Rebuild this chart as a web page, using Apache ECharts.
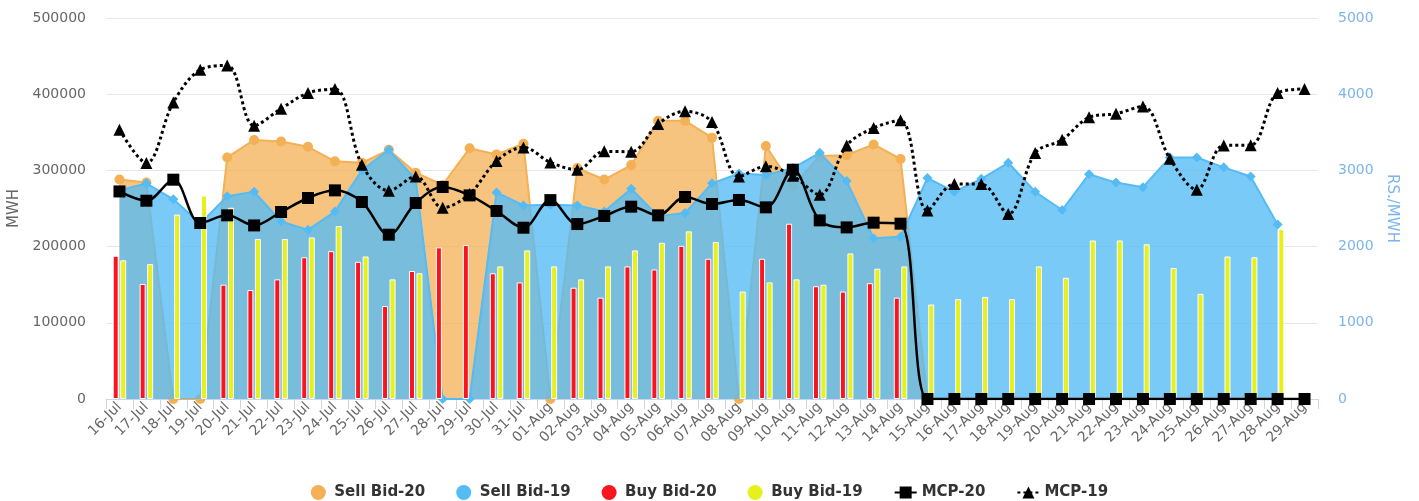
<!DOCTYPE html>
<html>
<head>
<meta charset="utf-8">
<script src="https://cdn.jsdelivr.net/npm/echarts@6/dist/echarts.min.js"></script>
<style>
html,body{margin:0;padding:0;background:#fff;}
#chart{width:1419px;height:501px;}
</style>
</head>
<body>
<div id="chart"></div>
<script>
const categories = ['16-Jul','17-Jul','18-Jul','19-Jul','20-Jul','21-Jul','22-Jul','23-Jul','24-Jul','25-Jul','26-Jul','27-Jul','28-Jul','29-Jul','30-Jul','31-Jul',
'01-Aug','02-Aug','03-Aug','04-Aug','05-Aug','06-Aug','07-Aug','08-Aug','09-Aug','10-Aug','11-Aug','12-Aug','13-Aug','14-Aug','15-Aug','16-Aug','17-Aug','18-Aug','19-Aug','20-Aug','21-Aug','22-Aug','23-Aug','24-Aug','25-Aug','26-Aug','27-Aug','28-Aug','29-Aug'];

const sellBid20 = [288000,284000,0,0,317000,340000,338000,331000,312000,310000,327000,297000,281000,329000,321000,335000,
0,303000,288000,307000,365000,365000,343000,0,332000,279000,319000,320000,334000,315000,0,0,0,0,0,0,0,0,0,0,0,0,0,0,0];

const sellBid19 = [274000,283000,262000,230000,266000,272000,233000,222000,246000,300000,327000,288000,0,0,271000,254000,
255000,254000,246000,276000,240000,244000,283000,296000,294000,303000,323000,286000,211000,213000,290000,272000,289000,310000,272000,248000,295000,284000,278000,317000,317000,304000,292000,229000,null];

const buyBid20 = [188000,151000,null,null,150000,143000,157000,186000,194000,180000,122000,168000,199000,202000,165000,153000,
null,146000,133000,174000,170000,201000,184000,null,184000,230000,148000,141000,152000,133000,null,null,null,null,null,null,null,null,null,null,null,null,null,null,null];

const buyBid19 = [182000,177000,242000,267000,251000,210000,210000,212000,227000,187000,157000,165000,null,null,174000,195000,
174000,157000,174000,195000,205000,220000,206000,141000,153000,157000,150000,191000,171000,174000,124000,131000,134000,131000,174000,159000,208000,208000,203000,172000,138000,187000,186000,223000,null];

const mcp20 = [2724,2602,2878,2310,2410,2278,2454,2638,2738,2585,2156,2572,2782,2672,2467,2248,
2610,2296,2402,2524,2410,2651,2559,2612,2515,3009,2344,2252,2314,2301,0,0,0,0,0,0,0,0,0,0,0,0,0,0,0];

const mcp19 = [3534,3097,3892,4321,4378,3587,3810,4016,4068,3075,2734,2921,2511,2690,3123,3302,
3105,3009,3250,3245,3609,3775,3635,2921,3053,2930,2681,3328,3556,3657,2475,2821,2820,2428,3228,3403,3696,3744,3840,3154,2747,3328,3330,4016,4068];

const leftTicks = [0,100000,200000,300000,400000,500000];
const rightTicks = [0,1000,2000,3000,4000,5000];

const ORANGE = '#f4b054', BLUE = '#55bbf5', RED = '#fa1420', YELLOW = '#e6f01a';
const FONT = 'DejaVu Sans';

const chart = echarts.init(document.getElementById('chart'), null, {renderer:'canvas'});
chart.setOption({
  animation: false,
  textStyle: {fontFamily: FONT},
  grid: {left:106, right:101, top:18, bottom:102, containLabel:false, outerBoundsMode:'none'},
  legend: {
    top: 480, left: 'center',
    itemWidth: 22, itemHeight: 15, itemGap: 31,
    textStyle: {fontFamily: FONT, fontSize: 15, fontWeight: 'bold', color: '#333'},
    data: [
      {name:'Sell Bid-20', icon:'circle'},
      {name:'Sell Bid-19', icon:'circle'},
      {name:'Buy Bid-20', icon:'circle', itemStyle:{borderWidth:0}},
      {name:'Buy Bid-19', icon:'circle', itemStyle:{borderWidth:0}},
      {name:'MCP-20'},
      {name:'MCP-19'}
    ]
  },
  xAxis: {
    type: 'category', data: categories, boundaryGap: true,
    axisLine: {lineStyle: {color:'#ccd6eb'}},
    axisTick: {show:true, length:10, lineStyle:{color:'#ccd6eb'}},
    axisLabel: {rotate:45, interval:0, fontSize:14, color:'#666', fontFamily:FONT, margin:6}
  },
  yAxis: [
    {
      type:'value', min: leftTicks[0], max: leftTicks[leftTicks.length-1], interval: leftTicks[1]-leftTicks[0],
      name:'MWH', nameLocation:'middle', nameGap:84, nameRotate:90,
      nameTextStyle:{color:'#666', fontSize:15, fontFamily:FONT},
      axisLine:{show:false}, axisTick:{show:false},
      axisLabel:{color:'#666', fontSize:14, margin:20, fontFamily:FONT, formatter: v => String(v)},
      splitLine:{lineStyle:{color:'#e6e6e6', width:1}}
    },
    {
      type:'value', min: rightTicks[0], max: rightTicks[rightTicks.length-1], interval: rightTicks[1]-rightTicks[0],
      position:'right',
      name:'RS./MWH', nameLocation:'middle', nameGap:66, nameRotate:-90,
      nameTextStyle:{color:'#7cb5ec', fontSize:15, fontFamily:FONT},
      axisLine:{show:false}, axisTick:{show:false},
      axisLabel:{color:'#7cb5ec', fontSize:14, margin:20, fontFamily:FONT, formatter: v => String(v)},
      splitLine:{show:false}
    }
  ],
  series: [
    {
      name:'Sell Bid-20', type:'line', data: sellBid20, z:1,
      symbol:'circle', symbolSize:10, showAllSymbol:true,
      itemStyle:{color:ORANGE},
      lineStyle:{color:ORANGE, width:2},
      areaStyle:{color:ORANGE, opacity:0.75}
    },
    {
      name:'Sell Bid-19', type:'line', data: sellBid19, z:2,
      symbol:'diamond', symbolSize:10, showAllSymbol:true,
      itemStyle:{color:BLUE},
      lineStyle:{color:BLUE, width:2},
      areaStyle:{color:BLUE, opacity:0.78}
    },
    {
      name:'Buy Bid-20', type:'bar', data: buyBid20, z:3,
      barWidth:6, barGap:'25%',
      itemStyle:{color:RED, borderColor:'#fff', borderWidth:1}
    },
    {
      name:'Buy Bid-19', type:'bar', data: buyBid19, z:3,
      barWidth:6, barGap:'25%',
      itemStyle:{color:YELLOW, borderColor:'#fff', borderWidth:1}
    },
    {
      name:'MCP-20', type:'line', yAxisIndex:1, data: mcp20, z:6,
      smooth:0.35, symbol:'rect', symbolSize:12, showAllSymbol:true,
      itemStyle:{color:'#000'},
      lineStyle:{color:'#000', width:2.5}
    },
    {
      name:'MCP-19', type:'line', yAxisIndex:1, data: mcp19, z:5,
      smooth:0.35, symbol:'triangle', symbolSize:12, showAllSymbol:true,
      itemStyle:{color:'#000'},
      lineStyle:{color:'#000', width:3, type:[3,3]}
    }
  ]
});
</script>
</body>
</html>
